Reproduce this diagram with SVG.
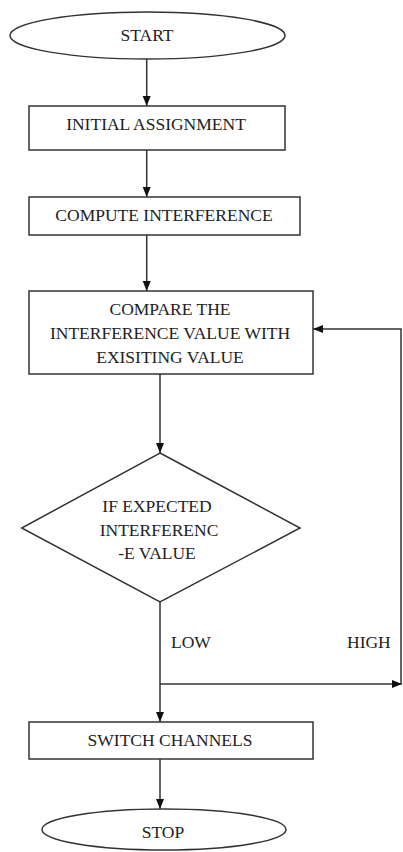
<svg xmlns="http://www.w3.org/2000/svg" width="403" height="852" viewBox="0 0 403 852">
<style>
.s{fill:#fff;stroke:#333;stroke-width:1.5}
.c{fill:none;stroke:#333;stroke-width:1.5}
text{font-family:'Liberation Serif','DejaVu Serif',serif;font-size:17.5px;fill:#222;text-anchor:middle}
.l{text-anchor:start}
</style>
<defs>
<marker id="a" viewBox="0 0 10 10" refX="10" refY="5" markerWidth="10" markerHeight="10" markerUnits="userSpaceOnUse" orient="auto">
<path d="M0,1 L10,5 L0,9 Z" fill="#111"/>
</marker>
</defs>
<rect width="403" height="852" fill="#fff"/>
<g id="connectors">
<line class="c" x1="146.7" y1="59" x2="146.7" y2="106" marker-end="url(#a)"/>
<line class="c" x1="146.7" y1="150" x2="146.7" y2="197" marker-end="url(#a)"/>
<line class="c" x1="146.7" y1="235" x2="146.7" y2="291" marker-end="url(#a)"/>
<line class="c" x1="160" y1="374" x2="160" y2="453" marker-end="url(#a)"/>
<line class="c" x1="160" y1="602" x2="160" y2="722" marker-end="url(#a)"/>
<polyline class="c" points="160,684 402,684" marker-end="url(#a)"/>
<polyline class="c" points="401,684 401,329 313,329" marker-end="url(#a)"/>
<line class="c" x1="160" y1="759" x2="160" y2="809" marker-end="url(#a)"/>
<text class="l" x="171" y="648">LOW</text>
<text class="l" x="347" y="648">HIGH</text>
</g>
<g id="start">
<ellipse class="s" cx="147.5" cy="35.5" rx="137.5" ry="23.5"/>
<text x="147" y="41">START</text>
</g>
<g id="initial">
<rect class="s" x="29" y="106" width="256" height="44"/>
<text x="156" y="130">INITIAL ASSIGNMENT</text>
</g>
<g id="compute">
<rect class="s" x="29" y="197" width="271" height="38"/>
<text x="164" y="221">COMPUTE INTERFERENCE</text>
</g>
<g id="compare">
<rect class="s" x="29" y="291" width="284" height="83"/>
<text x="170" y="315">COMPARE THE</text>
<text x="170" y="339">INTERFERENCE VALUE WITH</text>
<text x="170" y="363">EXISITING VALUE</text>
</g>
<g id="decision">
<polygon class="s" points="160,453 300,528 160,602 21.7,528"/>
<text x="157" y="512">IF EXPECTED</text>
<text x="159" y="536">INTERFERENC</text>
<text x="157" y="559">-E VALUE</text>
</g>
<g id="switch">
<rect class="s" x="29" y="722" width="284" height="37"/>
<text x="170" y="746">SWITCH CHANNELS</text>
</g>
<g id="stop">
<ellipse class="s" cx="164" cy="829.5" rx="122" ry="20.5"/>
<text x="163" y="838">STOP</text>
</g>
</svg>
